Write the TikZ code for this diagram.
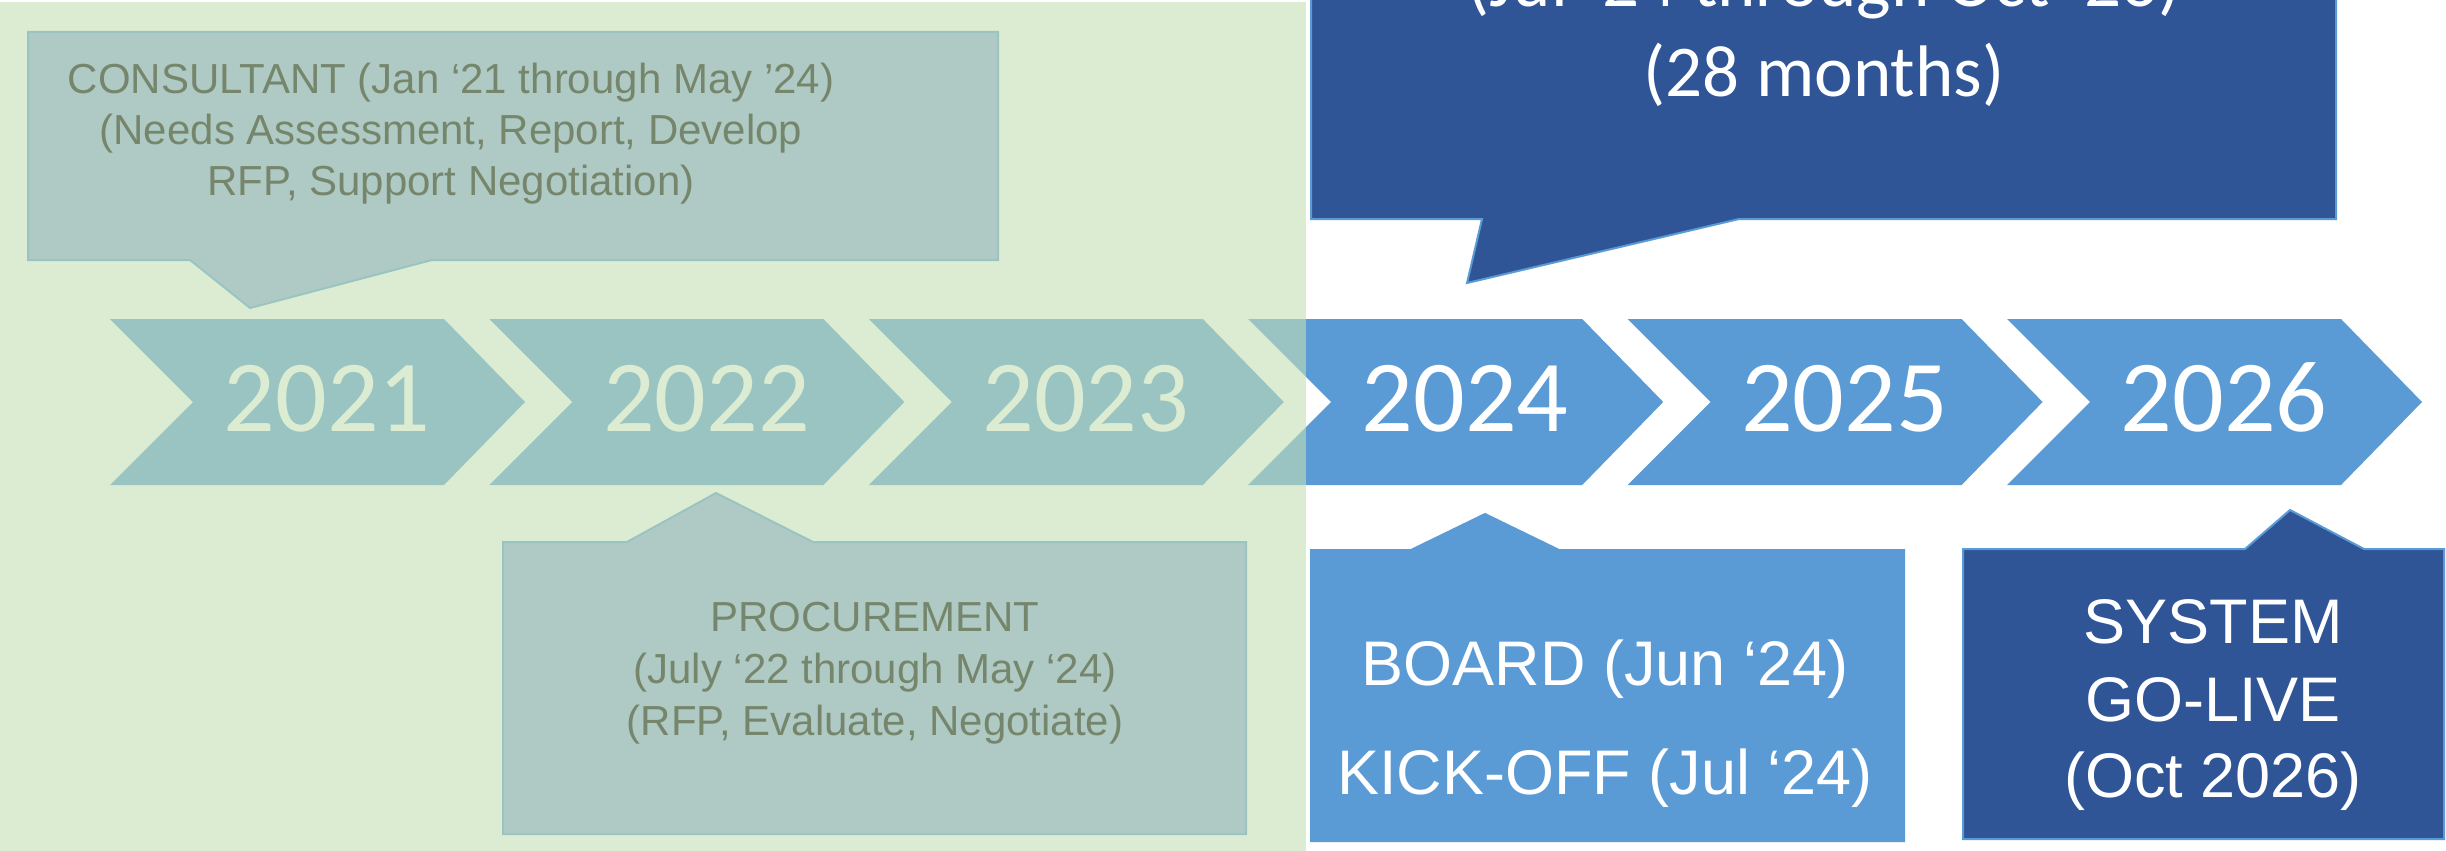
\documentclass[tikz,border=0pt]{standalone}
\usepackage{fontspec}
\setmainfont{Liberation Sans}
\newfontfamily\yearfont{Carlito}
\definecolor{lightblue}{HTML}{5B9BD5}
\definecolor{darkblue}{HTML}{2F5597}
\definecolor{paleblue}{HTML}{8FAADC}
\definecolor{washgreen}{HTML}{C5E0B4}
\tikzset{
  chevron/.style={fill=lightblue, draw=none},
  callout/.style={draw=lightblue, line width=2pt, line join=miter},
  yeartext/.style={font=\yearfont\fontsize{102}{110}\selectfont, text=white, anchor=base, inner sep=0pt},
  smalltext/.style={font=\fontsize{42}{50}\selectfont, text=black, anchor=base, inner sep=0pt},
  bigtext/.style={font=\fontsize{63}{70}\selectfont, text=white, anchor=base, inner sep=0pt},
  spantext/.style={font=\yearfont\fontsize{73}{80}\selectfont, text=white, anchor=base, inner sep=0pt},
}
\begin{document}
\begin{tikzpicture}[x=1pt, y=-1pt]
\useasboundingbox (0,0) rectangle (2446,851);
\clip (0,0) rectangle (2446,851);
\fill[white] (0,0) rectangle (2446,851);

% year chevrons
\foreach \yr [count=\i from 0] in {2021,2022,2023,2024,2025,2026} {
  \pgfmathsetmacro{\L}{110+379.4*\i}
  \fill[chevron] (\L,319) -- ({\L+334},319) -- ({\L+415},402) -- ({\L+334},485)
    -- (\L,485) -- ({\L+83},402) -- cycle;
  \node[yeartext] (y\yr) at ({\L+217},431) {\yr};
}

% consultant callout
\path[callout, fill=paleblue] (28,32) -- (998,32) -- (998,260) -- (432,260)
  -- (250,308) -- (190,260) -- (28,260) -- cycle;
\node[smalltext] (cons1) at (451,93) {CONSULTANT (Jan ‘21 through May ’24)};
\node[smalltext] (cons2) at (451,144) {(Needs Assessment, Report, Develop};
\node[smalltext] (cons3) at (451,195) {RFP, Support Negotiation)};

% procurement callout
\path[callout, fill=paleblue] (503,542) -- (627,542) -- (716,493) -- (813,542)
  -- (1246,542) -- (1246,834) -- (503,834) -- cycle;
\node[smalltext] (proc1) at (875,631) {PROCUREMENT};
\node[smalltext] (proc2) at (875,683) {(July ‘22 through May ‘24)};
\node[smalltext] (proc3) at (875,735) {(RFP, Evaluate, Negotiate)};

% green wash over the completed years
\fill[washgreen, opacity=0.6] (0,2) rectangle (1306,851);

% implementation callout
\path[callout, fill=darkblue] (1311,-10) -- (2336,-10) -- (2336,219) -- (1739,219)
  -- (1467,283) -- (1482,219) -- (1311,219) -- cycle;
\node[spantext] (impl1) at (1824,7) {(Jul ‘24 through Oct ‘26)};
\node[spantext] (impl2) at (1824,96) {(28 months)};

% board / kick-off callout
\path[callout, fill=lightblue] (1311,550) -- (1411,550) -- (1485,514) -- (1559,550)
  -- (1904,550) -- (1904,841) -- (1311,841) -- cycle;
\node[bigtext] (board1) at (1605,685) {BOARD (Jun ‘24)};
\node[bigtext] (board2) at (1605,794) {KICK-OFF (Jul ‘24)};

% go-live callout
\path[callout, fill=darkblue] (1963,549) -- (2245,549) -- (2290,510) -- (2364,549)
  -- (2444,549) -- (2444,839) -- (1963,839) -- cycle;
\node[bigtext] (sys1) at (2213,643) {SYSTEM};
\node[bigtext] (sys2) at (2213,721) {GO-LIVE};
\node[bigtext] (sys3) at (2213,797) {(Oct 2026)};
\end{tikzpicture}
\end{document}
